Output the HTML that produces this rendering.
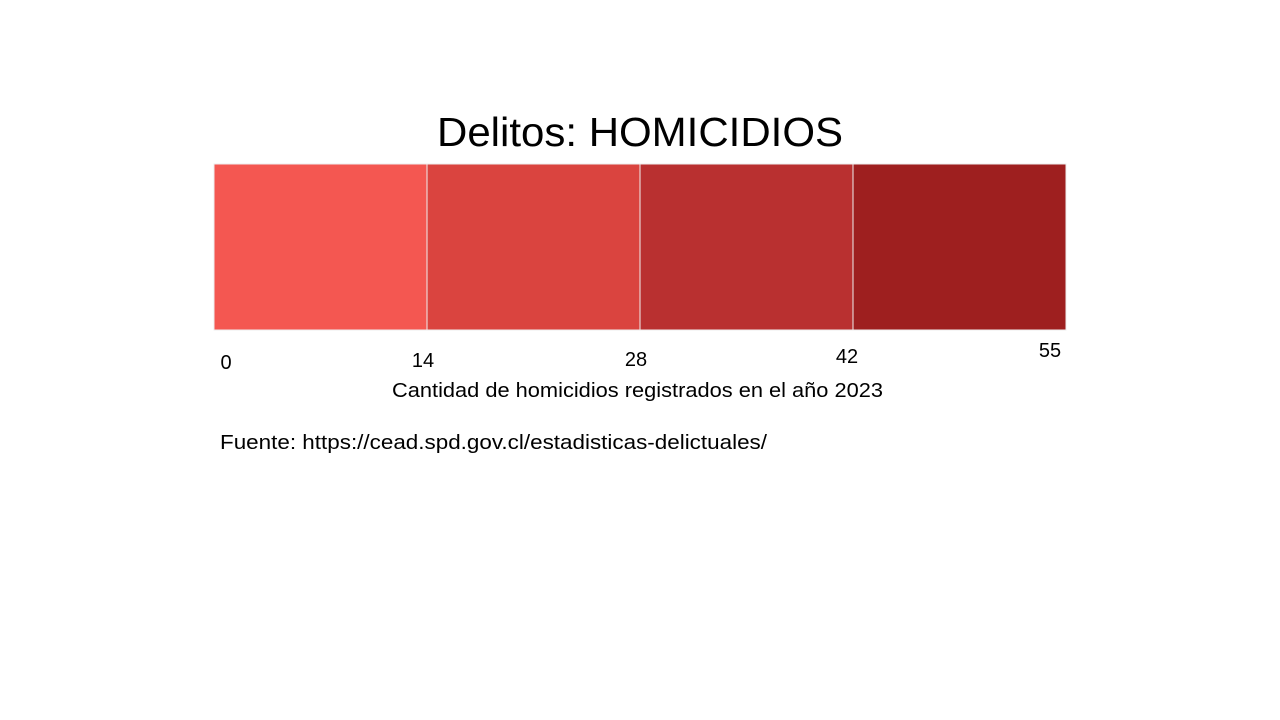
<!DOCTYPE html>
<html><head><meta charset="utf-8"><style>
body{margin:0;width:1280px;height:720px;background:#fff;overflow:hidden;font-family:"Liberation Sans",sans-serif;}
svg{position:absolute;left:0;top:0}
</style></head><body>
<svg width="1280" height="720">
<text x="640" y="146" text-anchor="middle" font-size="41" textLength="406" lengthAdjust="spacingAndGlyphs" fill="#000">Delitos: HOMICIDIOS</text>
<g id="bars"></g>
<g id="ticks"></g>
<text x="392" y="397" font-size="20" textLength="491" lengthAdjust="spacingAndGlyphs" fill="#000">Cantidad de homicidios registrados en el año 2023</text>
<text x="220" y="449" font-size="20" textLength="547" lengthAdjust="spacingAndGlyphs" fill="#000">Fuente: https://cead.spd.gov.cl/estadisticas-delictuales/</text>
</svg>
<script>
const breaks=[0,14,28,42,55];
const tickLabels=["0","14","28","42","55"];
const colors=["#F45751","#DA443F","#B93030","#9E1F1F"];
const x0=214,x1=1066,y0=164,y1=330;
const sx=i=>x0+(x1-x0)*i/(breaks.length-1);
const ns="http://www.w3.org/2000/svg";
const bars=document.getElementById('bars');
for(let i=0;i<colors.length;i++){
 const r=document.createElementNS(ns,'rect');
 r.setAttribute('x',sx(i));r.setAttribute('y',y0);
 r.setAttribute('width',sx(i+1)-sx(i));r.setAttribute('height',y1-y0);
 r.setAttribute('fill',colors[i]);r.setAttribute('stroke','#eee');r.setAttribute('stroke-width','1');
 
 
 bars.appendChild(r);
}
const ticks=document.getElementById('ticks');
const tdx=[12,-4,-4,-6,-16];
const tdy=[369,367,366,363,357];
tickLabels.forEach((t,i)=>{
 const e=document.createElementNS(ns,'text');
 e.setAttribute('x',sx(i)+tdx[i]);e.setAttribute('y',tdy[i]);
 e.setAttribute('font-size','20');e.setAttribute('text-anchor','middle');
 e.textContent=t;
 
 
 ticks.appendChild(e);
});
</script>
</body></html>
